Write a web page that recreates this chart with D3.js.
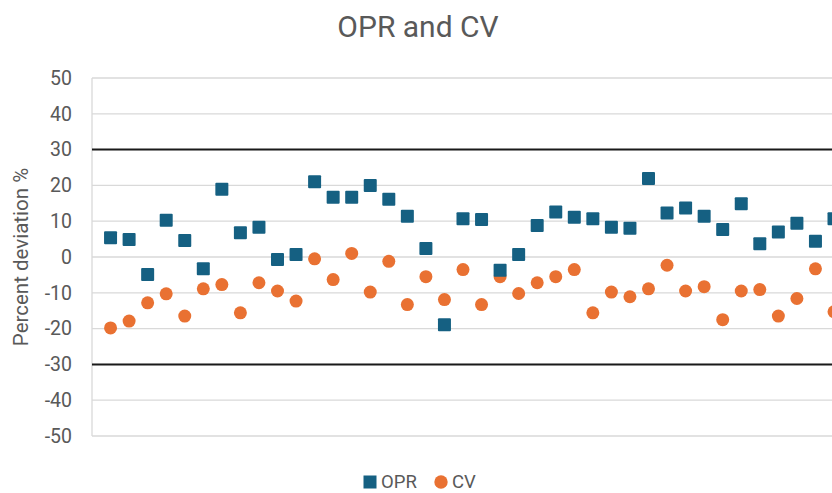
<!DOCTYPE html>
<html lang="en">
<head>
    <meta charset="UTF-8">
    <title>OPR and CV</title>
    <script src="https://d3js.org/d3.v7.min.js"></script>
    <style>
        body {
            margin: 0;
            background: #ffffff;
            font-family: Roboto, "Open Sans", sans-serif;
            overflow: hidden;
        }

        svg {
            display: block;
        }

        .grid line {
            stroke: #d9d9d9;
            stroke-width: 1.3px;
        }

        .limit {
            stroke: #1a1a1a;
            stroke-width: 2px;
        }

        .tick-label {
            fill: #595959;
            font-size: 19.5px;
            text-anchor: end;
        }

        .title {
            fill: #595959;
            font-size: 30px;
            text-anchor: middle;
        }

        .axis-label {
            fill: #595959;
            font-size: 20.5px;
            text-anchor: middle;
        }

        .legend-text {
            fill: #595959;
            font-size: 18.5px;
        }
    </style>
</head>
<body>

<svg id="chart"></svg>

<script>
    // Sample index (x) for each point
    const samples = d3.range(1, 41);

    // OPR percent deviation values
    const opr = [5.4, 4.9, -4.9, 10.3, 4.6, -3.3, 18.9, 6.8, 8.3, -0.7,
                 0.7, 21.0, 16.7, 16.7, 20.0, 16.1, 11.4, 2.4, -18.9, 10.7,
                 10.5, -3.7, 0.7, 8.8, 12.6, 11.1, 10.7, 8.3, 8.0, 21.9,
                 12.3, 13.7, 11.4, 7.7, 14.9, 3.7, 7.0, 9.4, 4.4, 10.7];

    // CV percent deviation values
    const cv = [-19.8, -17.9, -12.8, -10.3, -16.5, -8.9, -7.7, -15.6, -7.2, -9.5,
                -12.3, -0.5, -6.3, 1.0, -9.8, -1.2, -13.3, -5.5, -11.9, -3.5,
                -13.3, -5.5, -10.2, -7.2, -5.5, -3.5, -15.6, -9.8, -11.1, -8.9,
                -2.3, -9.5, -8.3, -17.5, -9.5, -9.1, -16.5, -11.6, -3.3, -15.3];

    // Y axis ticks and the two limit lines
    const yTicks = [50, 40, 30, 20, 10, 0, -10, -20, -30, -40, -50];
    const limits = [30, -30];

    const svgWidth = 832;
    const svgHeight = 493;
    const margin = { top: 78, right: 0, bottom: 57, left: 92 };
    const xStep = 18.55;

    const svg = d3.select("#chart")
        .attr("width", svgWidth)
        .attr("height", svgHeight);

    // Scales
    const xScale = d3.scaleLinear()
        .domain([0, 1])
        .range([margin.left, margin.left + xStep]);

    const yScale = d3.scaleLinear()
        .domain([-50, 50])
        .range([svgHeight - margin.bottom, margin.top]);

    // Horizontal gridlines
    svg.append("g")
        .attr("class", "grid")
        .selectAll("line")
        .data(yTicks)
        .enter().append("line")
        .attr("x1", margin.left)
        .attr("x2", svgWidth)
        .attr("y1", d => yScale(d))
        .attr("y2", d => yScale(d));

    // Vertical axis line on the left
    svg.append("line")
        .attr("x1", margin.left)
        .attr("x2", margin.left)
        .attr("y1", yScale(50))
        .attr("y2", yScale(-50))
        .attr("stroke", "#d9d9d9")
        .attr("stroke-width", 1.3);

    // Limit lines at +/-30
    svg.selectAll(".limit")
        .data(limits)
        .enter().append("line")
        .attr("class", "limit")
        .attr("x1", margin.left)
        .attr("x2", svgWidth)
        .attr("y1", d => yScale(d))
        .attr("y2", d => yScale(d));

    // Tick labels
    svg.selectAll(".tick-label")
        .data(yTicks)
        .enter().append("text")
        .attr("class", "tick-label")
        .attr("x", 72)
        .attr("y", d => yScale(d))
        .attr("dy", "0.35em")
        .text(d => d);

    // CV circles
    const cvSize = 13;
    svg.append("g")
        .selectAll("circle")
        .data(cv)
        .enter().append("circle")
        .attr("cx", (d, i) => xScale(samples[i]))
        .attr("cy", d => yScale(d))
        .attr("r", cvSize / 2)
        .attr("fill", "#e97132");

    // OPR squares
    const oprSize = 13;
    svg.append("g")
        .selectAll("rect")
        .data(opr)
        .enter().append("rect")
        .attr("x", (d, i) => xScale(samples[i]) - oprSize / 2)
        .attr("y", d => yScale(d) - oprSize / 2)
        .attr("width", oprSize)
        .attr("height", oprSize)
        .attr("rx", 1)
        .attr("fill", "#156082");

    // Title
    svg.append("text")
        .attr("class", "title")
        .attr("x", 418)
        .attr("y", 37)
        .text("OPR and CV");

    // Y axis label
    svg.append("text")
        .attr("class", "axis-label")
        .attr("transform", "translate(28," + yScale(0) + ") rotate(-90)")
        .text("Percent deviation %");

    // Legend
    const legend = svg.append("g")
        .attr("transform", "translate(0,482)");

    legend.append("rect")
        .attr("x", 363.5)
        .attr("y", -6.5)
        .attr("width", 13)
        .attr("height", 13)
        .attr("fill", "#156082");

    legend.append("text")
        .attr("class", "legend-text")
        .attr("x", 381)
        .attr("dy", "0.35em")
        .text("OPR");

    legend.append("circle")
        .attr("cx", 441)
        .attr("r", 6.7)
        .attr("fill", "#e97132");

    legend.append("text")
        .attr("class", "legend-text")
        .attr("x", 452)
        .attr("dy", "0.35em")
        .text("CV");
</script>

</body>
</html>
